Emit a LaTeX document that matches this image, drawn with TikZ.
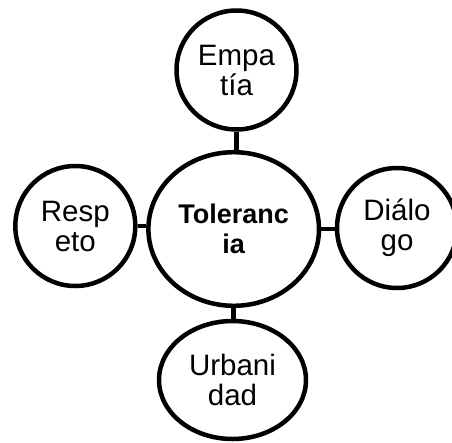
\documentclass[tikz,border=0pt]{standalone}
\usepackage{fontspec}
\setmainfont{Liberation Sans}
\usetikzlibrary{shapes.geometric}
\begin{document}
\begin{tikzpicture}[x=1pt,y=-1pt,
  bubble/.style={ellipse,draw=black,line width=4.5pt,inner sep=0pt,align=center,
    font=\fontsize{29.5}{30}\selectfont},
  link/.style={draw=black,line width=4.5pt}]
\useasboundingbox (0,0) rectangle (452,442);
\clip (0,0) rectangle (452,442);
\node[bubble,minimum width=170.6pt,minimum height=153.6pt,
  font=\fontsize{27}{30}\selectfont\bfseries] (c) at (233.7,229) {Toleranc\\ia};
\node[bubble,minimum width=120pt,minimum height=119pt] (t) at (236.5,70) {Empa\\tía};
\node[bubble,minimum width=120pt,minimum height=120pt] (l) at (75.3,226) {Resp\\eto};
\node[bubble,minimum width=120pt,minimum height=120pt] (r) at (397,228) {Diálo\\go};
\node[bubble,minimum width=147pt,minimum height=118pt] (b) at (232.5,380) {Urbani\\dad};
\draw[link] (t.south) -- (t.south |- c.north);
\draw[link] (l.east) -- (l.east -| c.west);
\draw[link] (c.east) -- (c.east -| r.west);
\draw[link] (c.south) -- (c.south |- b.north);
\end{tikzpicture}
\end{document}
